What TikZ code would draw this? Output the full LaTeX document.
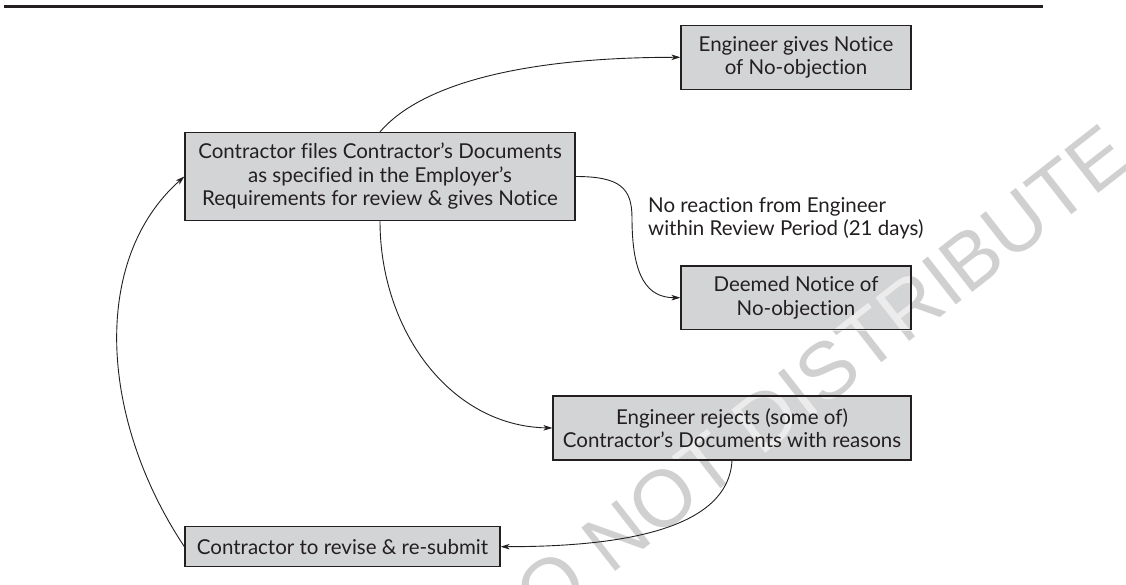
\documentclass[tikz,border=0pt]{standalone}
\usepackage{fontspec}
\setmainfont{Lato}[Ligatures=NoCommon]
\newfontfamily\markfont{Liberation Sans}
\usetikzlibrary{arrows.meta}
\definecolor{ink}{RGB}{35,31,32}
\definecolor{boxfill}{RGB}{211,212,214}
\definecolor{markgrey}{RGB}{208,208,208}
\definecolor{marklight}{RGB}{236,236,237}
\pgfdeclarelayer{fills}
\pgfdeclarelayer{mark}
\pgfsetlayers{fills,mark,main}
\tikzset{
  stepbox/.style={draw=ink, line width=1.2pt, text=ink,
    align=center, inner sep=0pt},
  flow/.style={draw=ink, line width=0.9pt,
    -{Stealth[length=9pt,width=5.5pt,inset=2.5pt]}},
  wmstyle/.style={rotate=38, inner sep=0pt,
    font=\markfont\fontsize{80}{80}\selectfont},
}
\begin{document}
\begin{tikzpicture}[x=1pt,y=-1pt,font=\fontsize{20.5}{23.5}\selectfont]
\useasboundingbox (0,0) rectangle (1126,585);

% heading rule
\coordinate (ruleL) at (4,6.7);
\coordinate (ruleR) at (1043,6.7);
\draw[line width=2.6pt, ink] (ruleL) -- (ruleR);

% process steps (outlines and text; fills go on a lower layer)
\node[stepbox, minimum width=390pt, minimum height=88pt] (files) at (380,176.5)
  {Contractor files Contractor’s Documents\\as specified in the Employer’s\\Requirements for review \& gives Notice};
\node[stepbox, minimum width=230pt, minimum height=64pt] (gives) at (796,57.3)
  {Engineer gives Notice\\of No-objection};
\node[stepbox, minimum width=230pt, minimum height=63.5pt] (deemed) at (796,297.7)
  {Deemed Notice of\\No-objection};
\node[stepbox, minimum width=358pt, minimum height=64pt] (rejects) at (732,428)
  {Engineer rejects (some of)\\Contractor’s Documents with reasons};
\node[stepbox, minimum width=315pt, minimum height=40pt] (revise) at (342.5,546.7)
  {Contractor to revise \& re-submit};

\begin{pgfonlayer}{fills}
  \foreach \b in {files,gives,deemed,rejects,revise}
    \fill[boxfill] (\b.south west) rectangle (\b.north east);
\end{pgfonlayer}

% condition text
\node[anchor=west, align=left, text=ink, inner sep=0pt] (cond) at (648,218.3)
  {No reaction from Engineer\\within Review Period (21 days)};

% connectors
\draw[flow] (files.north) .. controls (420,85) and (520,57.3) .. (gives.west);
\coordinate (drop) at (632,218);
\draw[flow] (files.east) .. controls (620,176.5) and (632,188) .. (drop)
  .. controls (632,278) and (648,297.7) .. (deemed.west);
\draw[flow] (files.south) .. controls (380,330) and (450,426) .. (rejects.west);
\draw[flow] (rejects.south) .. controls (728,530) and (620,546.7) .. (revise.east);
\draw[flow] (revise.west) .. controls (100,420) and (90,260) .. (files.west);

% watermark: grey on paper, paler where it crosses a box
\begin{pgfonlayer}{mark}
  \node[wmstyle, text=markgrey] (wm) at (800,392) {DO NOT DISTRIBUTE};
  \begin{scope}
    \clip (deemed.south west) rectangle (deemed.north east)
          (rejects.south west) rectangle (rejects.north east)
          (gives.south west) rectangle (gives.north east);
    \node[wmstyle, text=marklight] (wmpale) at (800,392) {DO NOT DISTRIBUTE};
  \end{scope}
\end{pgfonlayer}
\end{tikzpicture}
\end{document}
